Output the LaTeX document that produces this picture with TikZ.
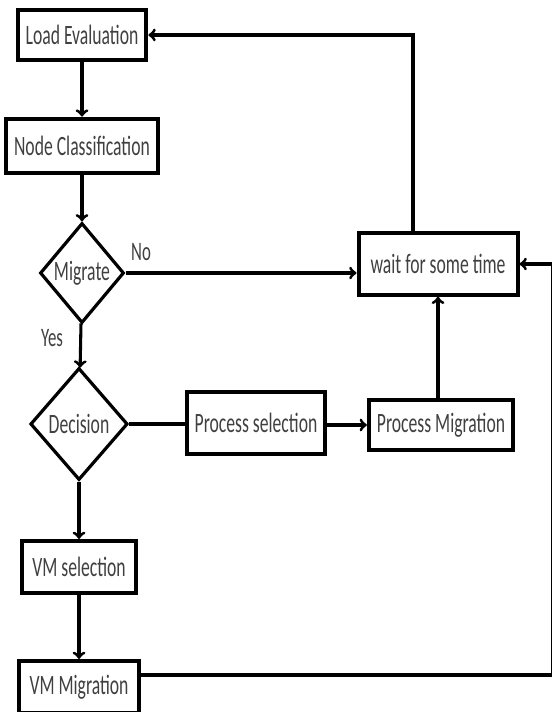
\documentclass[tikz,border=0pt]{standalone}
\usepackage{fontspec}
\setmainfont{Carlito}[FakeStretch=0.63]
\usetikzlibrary{shapes.geometric}
\tikzset{
	stepbox/.style={draw,line width=3pt,inner xsep=6pt,minimum height=39pt,font=\fontsize{21}{23}\selectfont,text=black!75},
	choice/.style={draw,diamond,line width=2.4pt,inner sep=0pt,aspect=0.85,font=\fontsize{21}{23}\selectfont,text=black!75},
	flow/.style={line width=2.3pt},
	lbl/.style={font=\fontsize{20}{22}\selectfont,text=black!75}
}
\begin{document}
\begin{tikzpicture}[x=0.75pt,y=-0.75pt]
				\useasboundingbox (0,0) rectangle (551,712);
				\node[stepbox,minimum height=37pt] (load) at (82,35) {Load Evaluation};
				\node[stepbox,minimum height=41pt] (classify) at (82,146) {Node Classification};
				\node[choice,minimum width=63pt,minimum height=75pt] (migrate) at (82,273) {Migrate};
				\node[choice,minimum width=73pt,minimum height=84pt] (decision) at (79,424) {Decision};
				\node[stepbox,minimum height=46pt] (psel) at (256,423) {Process selection};
				\node[stepbox,minimum height=37pt] (pmig) at (441,425) {Process Migration};
				\node[stepbox,minimum height=46pt,inner xsep=9pt] (wait) at (438,264) {wait for some time};
				\node[stepbox,minimum height=39pt,inner xsep=8pt] (vmsel) at (79,567) {VM selection};
				\node[stepbox,minimum height=39pt,inner xsep=8pt] (vmmig) at (79,687) {VM Migration};
				\node[lbl] (no) at (141,252) {No};
				\node[lbl] (yes) at (52,338) {Yes};
				\coordinate (bend) at (413,35);
				\coordinate (edge) at (553,675);
				\draw[flow,->] (load) to (classify);
				\draw[flow,->] (classify) to (migrate);
				\draw[flow,->] (migrate) to (decision);
				\draw[flow,->] (decision) to (vmsel);
				\draw[flow,->] (vmsel) to (vmmig);
				\draw[flow,->] (migrate.east) to (migrate.east -| wait.west);
				\draw[flow] (decision.east) to (decision.east -| psel.west);
				\draw[flow,->] (psel.east |- pmig.west) to (pmig.west);
				\draw[flow,->] (pmig.north -| wait.south) to (wait.south);
				\draw[flow,->] (bend |- wait.north) to (bend) to (load.east);
				\draw[flow,->] (vmmig.east |- edge) to (edge) to (edge |- wait.east) to (wait.east);
			\end{tikzpicture}
\end{document}
